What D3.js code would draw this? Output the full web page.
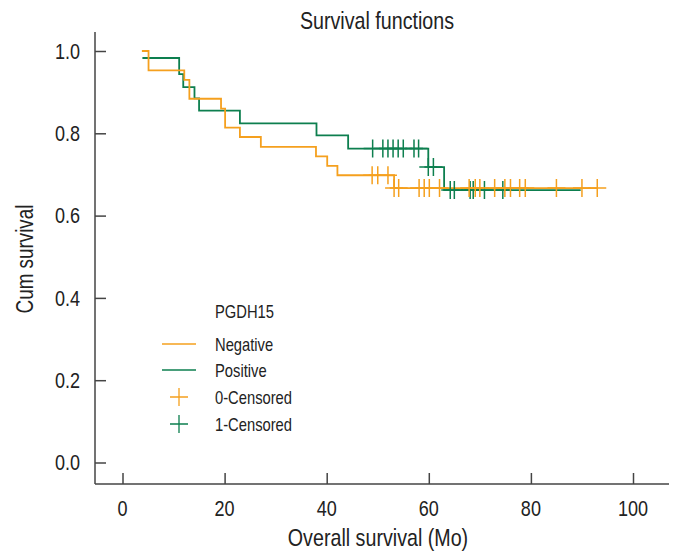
<!DOCTYPE html>
<html>
<head>
<meta charset="utf-8">
<script src="https://cdn.jsdelivr.net/npm/d3@7/dist/d3.min.js"></script>
<style>
  html, body { margin: 0; padding: 0; background: #fff; }
  svg { display: block; }
</style>
</head>
<body>
<div id="chart"></div>
<script>
// ---------------- DATA ----------------
const chartTitle = "Survival functions";
const xTitle = "Overall survival (Mo)";
const yTitle = "Cum survival";
const legendTitle = "PGDH15";
const seriesNames = ["Negative", "Positive"];
const censorNames = ["0-Censored", "1-Censored"];

const xTickValues = [0, 20, 40, 60, 80, 100];
const yTickValues = [0.0, 0.2, 0.4, 0.6, 0.8, 1.0];

// Negative group (step points: time, cumulative survival)
const negEventTimes = [3.8, 5.1, 12.1, 13.1, 19.3, 20.1, 23.0, 27.1, 37.9, 40.1, 42.1, 53.2];
const negSurvival   = [1.0, 0.953, 0.930, 0.884, 0.860, 0.814, 0.791, 0.767, 0.744, 0.721, 0.698, 0.667];
const negLastTime = 93.0;
const negCensorTimes = [48.9, 50.0, 52.0, 53.2, 54.1, 58.1, 59.1, 60.1, 62.1, 67.9, 69.1, 70.0, 72.9, 74.9, 76.0, 77.8, 78.9, 85.0, 90.0, 93.0];

// Positive group
const posEventTimes = [3.9, 11.1, 11.9, 14.1, 15.0, 23.0, 38.0, 44.2, 59.9, 63.0];
const posSurvival   = [0.983, 0.944, 0.912, 0.885, 0.855, 0.824, 0.795, 0.763, 0.718, 0.662];
const posLastTime = 89.75;
const posCensorTimes = [49.0, 51.0, 52.0, 53.0, 54.0, 55.0, 57.1, 58.0, 59.9, 60.9, 64.2, 65.0, 68.1, 68.7, 70.9, 74.5];

// ---------------- STYLE ----------------
const W = 675, H = 551;
const colNeg = "#f5a01e";
const colPos = "#0d7f4f";
const axisColor = "#444";

// font detection for narrow face
function fontAvailable(name) {
  const c = document.createElement("canvas").getContext("2d");
  const s = "abcdefghijklmnopqrstuvwxyz0123456789";
  c.font = "40px monospace"; const a = c.measureText(s).width;
  c.font = `40px "${name}", monospace`; const b = c.measureText(s).width;
  return Math.abs(a - b) > 0.5;
}
const hasNarrow = fontAvailable("Liberation Sans Narrow");
const FONT = hasNarrow ? '"Liberation Sans Narrow", "Arial Narrow", sans-serif' : '"Liberation Sans", Arial, sans-serif';
const squeeze = hasNarrow ? 1 : 0.82;

const svg = d3.select("#chart").append("svg").attr("width", W).attr("height", H)
  .style("font-family", FONT);

const x = d3.scaleLinear().domain([0, 100]).range([122.5, 633]);
const y = d3.scaleLinear().domain([0, 1]).range([462.5, 51]);
const xAxisLeft = x.invert(95), xAxisRight = x.invert(669);
const yAxisBottom = y.invert(484), yAxisTop = y.invert(32);

function addText(g, txt, tx, ty, size, anchor, rotate) {
  const t = g.append("text")
    .attr("font-size", size)
    .attr("fill", "#222")
    .attr("text-anchor", anchor)
    .text(txt);
  let tr = `translate(${tx},${ty})`;
  if (rotate) tr += ` rotate(${rotate})`;
  tr += ` scale(${squeeze},1)`;
  t.attr("transform", tr);
  return t;
}

// ---------------- AXES ----------------
const axes = svg.append("g");
const xa = axes.append("g").attr("transform", `translate(0,${y(yAxisBottom)})`)
  .call(d3.axisBottom(x).tickValues(xTickValues).tickSize(-11).tickFormat(""));
xa.select(".domain").attr("d", `M${x(xAxisLeft)},0H${x(xAxisRight)}`);
xa.selectAll("line").attr("stroke", axisColor).attr("stroke-width", 1.5);
xa.select(".domain").attr("stroke", axisColor).attr("stroke-width", 1.5);

const ya = axes.append("g").attr("transform", `translate(${x(xAxisLeft)},0)`)
  .call(d3.axisLeft(y).tickValues(yTickValues).tickSize(-11).tickFormat(""));
ya.select(".domain").attr("d", `M0,${y(yAxisTop)}V${y(yAxisBottom)}`);
ya.selectAll("line").attr("stroke", axisColor).attr("stroke-width", 1.5);
ya.select(".domain").attr("stroke", axisColor).attr("stroke-width", 1.5);

// tick labels
xTickValues.forEach(v => addText(axes, String(v), x(v), 516, 22, "middle"));
yTickValues.forEach(v => addText(axes, v.toFixed(1), 80, y(v) + 7.8, 22, "end"));

// titles
addText(svg, chartTitle, 377, 29, 24, "middle");
addText(svg, xTitle, 378, 546, 24, "middle");
addText(svg, yTitle, 33, 259, 23, "middle", -90);

// ---------------- CURVES ----------------
const line = d3.line().x(d => x(d[0])).y(d => y(d[1])).curve(d3.curveStepAfter);

function curvePoints(times, surv, last) {
  const pts = times.map((t, i) => [t, surv[i]]);
  pts.push([last, surv[surv.length - 1]]);
  return pts;
}
function survAt(times, surv, t) {
  let s = surv[0];
  for (let i = 0; i < times.length; i++) if (times[i] <= t + 1e-9) s = surv[i];
  return s;
}
const crossHalf = 9;
function drawCensors(g, times, evT, evS, color) {
  g.selectAll(null).data(times).enter().append("path")
    .attr("d", t => {
      const cx = x(t), cy = y(survAt(evT, evS, t));
      return `M${cx - crossHalf},${cy}H${cx + crossHalf}M${cx},${cy - crossHalf}V${cy + crossHalf}`;
    })
    .attr("stroke", color).attr("stroke-width", 1.5).attr("fill", "none");
}

const plot = svg.append("g");
plot.append("path").datum(curvePoints(posEventTimes, posSurvival, posLastTime))
  .attr("d", line).attr("fill", "none").attr("stroke", colPos).attr("stroke-width", 1.8);
plot.append("path").datum(curvePoints(negEventTimes, negSurvival, negLastTime))
  .attr("d", line).attr("fill", "none").attr("stroke", colNeg).attr("stroke-width", 1.8);
drawCensors(plot, posCensorTimes, posEventTimes, posSurvival, colPos);
drawCensors(plot, negCensorTimes, negEventTimes, negSurvival, colNeg);

// ---------------- LEGEND ----------------
const lg = svg.append("g");
addText(lg, legendTitle, 215, 318, 18, "start");
const legendRows = [
  { label: seriesNames[0], type: "line", color: colNeg, cy: 344 },
  { label: seriesNames[1], type: "line", color: colPos, cy: 370 },
  { label: censorNames[0], type: "cross", color: colNeg, cy: 397 },
  { label: censorNames[1], type: "cross", color: colPos, cy: 424 }
];
legendRows.forEach(r => {
  if (r.type === "line") {
    lg.append("line").attr("x1", 162).attr("x2", 196).attr("y1", r.cy).attr("y2", r.cy)
      .attr("stroke", r.color).attr("stroke-width", 1.5);
  } else {
    lg.append("path").attr("d", `M${179 - crossHalf},${r.cy}H${179 + crossHalf}M179,${r.cy - crossHalf}V${r.cy + crossHalf}`)
      .attr("stroke", r.color).attr("stroke-width", 1.3).attr("fill", "none");
  }
  addText(lg, r.label, 215, r.cy + 6.5, 18, "start");
});
</script>
</body>
</html>
